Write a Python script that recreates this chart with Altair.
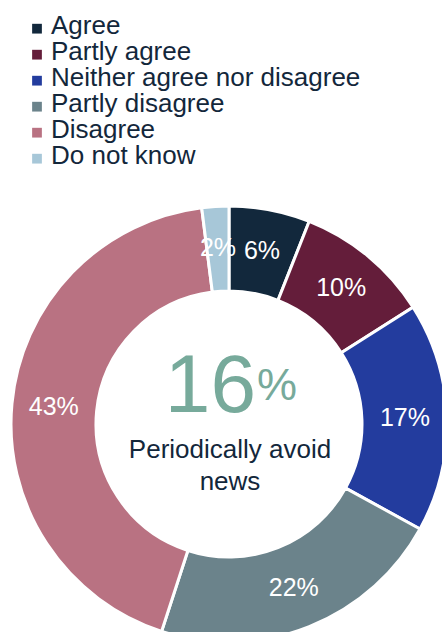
import altair as alt
import pandas as pd

categories = ["Agree", "Partly agree", "Neither agree nor disagree",
              "Partly disagree", "Disagree", "Do not know"]
values = [6, 10, 17, 22, 43, 2]
colors = ["#12283c", "#641d3a", "#233c9e", "#6b838b", "#b97282", "#a7c7d8"]
center_value = ["16"]
center_unit = ["%"]
center_caption = ["Periodically avoid", "news"]

FONT = "Liberation Sans"
NAVY = "#13273b"
TEAL = "#77aa9b"
CX, CY = 229, 424

df = pd.DataFrame({
    "category": categories,
    "value": values,
    "order": list(range(len(categories))),
    "label": [f"{v}%" for v in values],
})

base = alt.Chart(df).encode(
    theta=alt.Theta("value:Q", stack=True),
    order=alt.Order("order:Q"),
    x=alt.value(CX),
    y=alt.value(CY),
)

arcs = base.mark_arc(innerRadius=133, outerRadius=218, stroke="white", strokeWidth=3).encode(
    color=alt.Color(
        "category:N",
        scale=alt.Scale(domain=categories, range=colors),
        sort=categories,
        legend=alt.Legend(
            title=None, orient="none", legendX=24, legendY=13,
            labelFontSize=26, labelFont=FONT, labelColor=NAVY,
            symbolType="M-1,-0.45H1V1.55H-1Z", symbolSize=95, symbolStrokeWidth=0,
            rowPadding=0, labelOffset=1, padding=0, labelLimit=500,
        ),
    )
)

labels = base.mark_text(radius=176, fontSize=25, font=FONT, color="white",
                        align="center", baseline="middle").encode(
    detail="category:N",
    text="label:N",
)

c_val = alt.Chart(pd.DataFrame({"t": center_value})).mark_text(
    fontSize=82, font=FONT, color=TEAL, align="right", baseline="alphabetic"
).encode(text="t:N", x=alt.value(256), y=alt.value(412))

c_unit = alt.Chart(pd.DataFrame({"t": center_unit})).mark_text(
    fontSize=45, font=FONT, color=TEAL, align="left", baseline="alphabetic"
).encode(text="t:N", x=alt.value(257), y=alt.value(400))

c_cap = alt.Chart(pd.DataFrame({"t": ["\n".join(center_caption)]})).mark_text(
    fontSize=26, font=FONT, color=NAVY, align="center", baseline="alphabetic",
    lineBreak="\n", lineHeight=32
).encode(text="t:N", x=alt.value(230), y=alt.value(458))

chart = alt.layer(arcs, labels, c_val, c_unit, c_cap).properties(
    width=442, height=632, autosize="none", padding=0
).configure_view(stroke=None)

chart.save("out.html", embed_options={"renderer": "svg", "actions": False})
